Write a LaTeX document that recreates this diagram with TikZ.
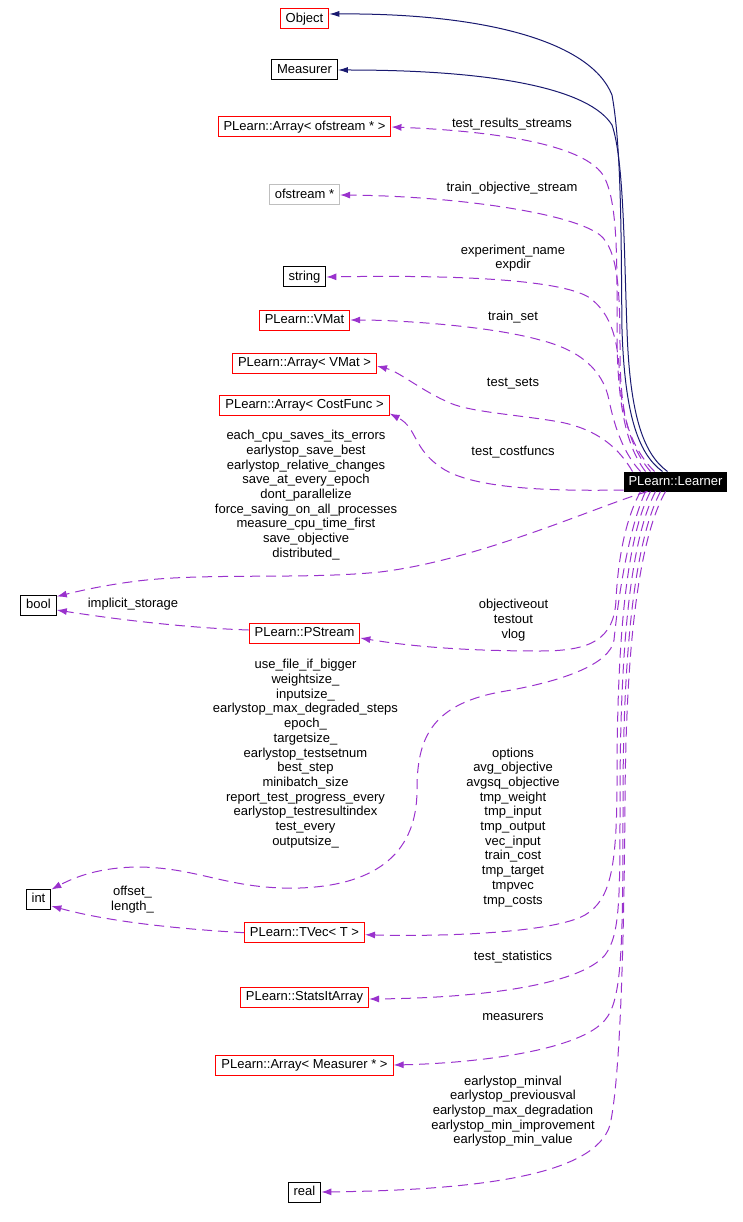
\documentclass[tikz,border=0pt]{standalone}
\usepackage{fontspec}
\setmainfont{Liberation Sans}
\usetikzlibrary{arrows.meta}
\definecolor{edgepurple}{RGB}{154,50,205}
\definecolor{edgenavy}{RGB}{25,25,112}
\definecolor{boxgray}{RGB}{191,191,191}
\begin{document}
\begin{tikzpicture}[x=1pt,y=-1pt,
  font=\fontsize{13}{14.7}\selectfont,
  cls/.style={draw, line width=1pt, inner xsep=5.5pt, inner ysep=0pt, minimum height=20pt, text height=9.5pt, text depth=2.5pt},
  redbox/.style={cls, draw=red},
  blackbox/.style={cls, draw=black},
  graybox/.style={cls, draw=boxgray},
  lbl/.style={align=center, inner sep=0pt},
  inherit/.style={draw=edgenavy, line width=1pt, -{Latex[length=10pt,width=6pt]}, edgenavy},
  member/.style={draw=edgepurple, line width=1pt, dash pattern=on 10pt off 6pt, -{Latex[length=10pt,width=7pt]}, edgepurple}
]
\useasboundingbox (0,0) rectangle (742,1222);

% nodes
\node[redbox] (obj) at (304.5,19) {Object};
\node[blackbox] (meas) at (304.5,70) {Measurer};
\node[redbox] (arrof) at (304.5,127) {PLearn::Array< ofstream * >};
\node[graybox] (ofs) at (304.5,195) {ofstream *};
\node[blackbox] (str) at (304.5,277) {string};
\node[redbox] (vmat) at (304.5,320) {PLearn::VMat};
\node[redbox] (avmat) at (304.5,363) {PLearn::Array< VMat >};
\node[redbox] (acf) at (304.5,405) {PLearn::Array< CostFunc >};
\node[cls, draw=black, fill=black, text=white, minimum height=19pt, inner xsep=4.5pt] (L) at (675.5,481.5) {PLearn::Learner};
\node[blackbox] (bool) at (38.5,605) {bool};
\node[redbox] (pst) at (304.5,633) {PLearn::PStream};
\node[blackbox] (int) at (38.5,899) {int};
\node[redbox] (tv) at (304.5,932.7) {PLearn::TVec< T >};
\node[redbox] (sia) at (304.5,997) {PLearn::StatsItArray};
\node[redbox] (am) at (304.5,1065) {PLearn::Array< Measurer * >};
\node[blackbox] (real) at (304.5,1192) {real};

% labels
\node[lbl] (l1) at (512,124) {test\_results\_streams};
\node[lbl] (l2) at (512,188) {train\_objective\_stream};
\node[lbl] (l3) at (513,258) {experiment\_name\\expdir};
\node[lbl] (l4) at (513,317.5) {train\_set};
\node[lbl] (l5) at (513,384) {test\_sets};
\node[lbl] (l6) at (513,452) {test\_costfuncs};
\node[lbl] (l7) at (306,495) {each\_cpu\_saves\_its\_errors\\earlystop\_save\_best\\earlystop\_relative\_changes\\save\_at\_every\_epoch\\dont\_parallelize\\force\_saving\_on\_all\_processes\\measure\_cpu\_time\_first\\save\_objective\\distributed\_};
\node[lbl] (l8) at (133,604.5) {implicit\_storage};
\node[lbl] (l9) at (513.5,620) {objectiveout\\testout\\vlog};
\node[lbl] (l10) at (305.5,753.7) {use\_file\_if\_bigger\\weightsize\_\\inputsize\_\\earlystop\_max\_degraded\_steps\\epoch\_\\targetsize\_\\earlystop\_testsetnum\\best\_step\\minibatch\_size\\report\_test\_progress\_every\\earlystop\_testresultindex\\test\_every\\outputsize\_};
\node[lbl] (l11) at (132.5,899.7) {offset\_\\length\_};
\node[lbl] (l12) at (513,827.2) {options\\avg\_objective\\avgsq\_objective\\tmp\_weight\\tmp\_input\\tmp\_output\\vec\_input\\train\_cost\\tmp\_target\\tmpvec\\tmp\_costs};
\node[lbl] (l13) at (513,956.7) {test\_statistics};
\node[lbl] (l14) at (513,1016.7) {measurers};
\node[lbl] (l15) at (513,1111.2) {earlystop\_minval\\earlystop\_previousval\\earlystop\_max\_degradation\\earlystop\_min\_improvement\\earlystop\_min\_value};

% inheritance edges
\draw[inherit] ([xshift=-13pt]L.north) .. controls (640,455) and (625,420) .. (622,330)
  .. controls (621,250) and (622,150) .. (612,95)
  .. controls (590,40) and (480,13) .. ([yshift=5pt]obj.east);
\draw[inherit] ([xshift=-8pt]L.north) .. controls (645,455) and (630,420) .. (627,330)
  .. controls (624,250) and (624,160) .. (612,125)
  .. controls (590,90) and (500,70) .. (meas.east);

% member edges
\draw[member] ([xshift=-30pt]L.north) .. controls (625,445) and (617,400) .. (617,330)
  .. controls (617,260) and (618,200) .. (603,175)
  .. controls (580,140) and (470,130) .. (arrof.east);
\draw[member] ([xshift=-25pt]L.north) .. controls (628,445) and (620,410) .. (620,350)
  .. controls (620,290) and (618,250) .. (600,235)
  .. controls (570,212) and (450,196) .. (ofs.east);
\draw[member] ([xshift=-21pt]L.north) .. controls (633,450) and (622,420) .. (620,380)
  .. controls (618,340) and (612,315) .. (590,298)
  .. controls (560,278) and (440,275) .. (str.east);
\draw[member] ([xshift=-35pt]L.north) .. controls (625,455) and (615,430) .. (609,400)
  .. controls (603,370) and (580,350) .. (540,340)
  .. controls (490,326) and (400,320) .. (vmat.east);
\draw[member] ([xshift=-43pt]L.north) .. controls (620,450) and (600,430) .. (560,422)
  .. controls (520,415) and (470,412) .. (450,403)
  .. controls (420,390) and (400,372) .. ([yshift=-3pt]avmat.east);
\draw[member] ([yshift=-8.5pt]L.west) .. controls (560,491) and (480,490) .. (445,470)
  .. controls (412,450) and (418,428) .. ([yshift=2pt]acf.south east);
\draw[member] ([xshift=-28pt]L.south) .. controls (600,505) and (480,560) .. (380,572)
  .. controls (300,580) and (200,572) .. (130,582)
  .. controls (100,586) and (75,592) .. ([yshift=-2pt]bool.north east);
\draw[member] ([yshift=3pt]pst.west) .. controls (190,628) and (120,620) .. ([yshift=-5pt]bool.east);
\draw[member] ([xshift=-35pt]L.south) .. controls (625,520) and (618,560) .. (616,600)
  .. controls (614,640) and (590,651) .. (540,651)
  .. controls (480,651) and (420,648) .. ([yshift=-5pt]pst.east);
\draw[member] ([xshift=-30pt]L.south) .. controls (628,530) and (618,600) .. (614,640)
  .. controls (610,665) and (560,682) .. (500,692)
  .. controls (430,705) and (417,740) .. (417,790)
  .. controls (417,850) and (380,885) .. (300,888)
  .. controls (230,890) and (200,868) .. (140,867)
  .. controls (100,867) and (75,877) .. ([yshift=-1pt]int.north east);
\draw[member] ([xshift=-25pt]L.south) .. controls (625,540) and (617,650) .. (617,780)
  .. controls (617,870) and (610,900) .. (585,915)
  .. controls (555,932) and (450,937) .. ([yshift=-2pt]tv.east);
\draw[member] (tv.west) .. controls (180,929) and (110,922) .. ([yshift=-7pt]int.east);
\draw[member] ([xshift=-20pt]L.south) .. controls (630,540) and (620,650) .. (620,800)
  .. controls (620,900) and (620,935) .. (605,955)
  .. controls (580,985) and (480,998) .. ([yshift=-2pt]sia.east);
\draw[member] ([xshift=-15pt]L.south) .. controls (635,540) and (623,650) .. (623,800)
  .. controls (623,950) and (622,1000) .. (605,1020)
  .. controls (580,1050) and (480,1063) .. (am.east);
\draw[member] ([xshift=-10pt]L.south) .. controls (638,540) and (626,650) .. (625,800)
  .. controls (624,950) and (620,1080) .. (610,1125)
  .. controls (595,1175) and (480,1190) .. (real.east);
\end{tikzpicture}
\end{document}
